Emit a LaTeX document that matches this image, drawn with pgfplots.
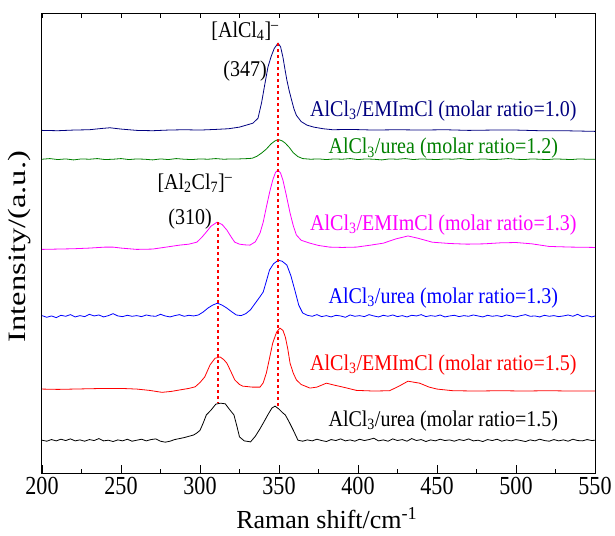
\documentclass[border=0pt]{standalone}
\usepackage{fontspec}
\setmainfont{Liberation Serif}
\newfontfamily\lblfont{Liberation Serif}[FakeStretch=0.89]
\newfontfamily\tickfont{Liberation Serif}[FakeStretch=0.85]
\newfontfamily\ylabfont{Liberation Serif}[FakeStretch=1.3]
\usepackage{pgfplots}
\pgfplotsset{compat=1.18}

\definecolor{navyc}{RGB}{0,0,128}
\definecolor{greenc}{RGB}{0,128,0}
\definecolor{magc}{RGB}{255,0,255}
\definecolor{bluec}{RGB}{0,0,255}
\definecolor{redc}{RGB}{255,0,0}

\newcommand\lbl{\lblfont\fontsize{22.5}{27}\selectfont}

\begin{document}
\begin{tikzpicture}
\begin{axis}[
    scale only axis,
    width=553pt, height=459pt,
    xmin=200, xmax=550, ymin=0, ymax=14,
    xtick={200,250,...,550},
    minor x tick num=1,
    xtick pos=bottom,
    ytick=\empty,
    minor ytick={1,...,13},
    major tick length=8pt,
    minor tick length=4pt,
    axis line style={line width=1pt},
    every tick/.style={black, line width=0.8pt},
    /pgf/number format/assume math mode=true,
    /pgf/number format/1000 sep={},
    xticklabel style={font=\tickfont\fontsize{26}{26}\selectfont, yshift=-1pt},
    xlabel={Raman shift/cm\textsuperscript{-1}},
    xlabel style={font=\fontsize{26}{26}\selectfont, at={(axis description cs:0.515,-0.121)}, anchor=base},
    ylabel={Intensity/(a.u.)},
    ylabel style={font=\ylabfont\fontsize{25}{25}\selectfont, at={(axis description cs:-0.04,0.493)}, anchor=center},
    clip=false,
]
% AlCl3/EMImCl 1.0
\addplot[navyc, line width=0.8pt] coordinates {
(200,10.45) (210,10.44) (220,10.46) (230,10.47) (238,10.51) (243,10.53) (250,10.49) (260,10.45) (270,10.44) (280,10.46) (290,10.47) (300,10.46) (310,10.48) (318,10.50) (325,10.55) (330,10.62) (333.5,10.67) (336.7,10.82) (339,11.30) (341,11.85) (343,12.38) (345,12.70) (347,12.95) (349.4,13.11) (351,13.00) (352.5,12.68) (354,12.25) (355,11.98) (356.5,11.65) (358,11.37) (359.5,11.10) (361,10.91) (364,10.72) (367.7,10.61) (372,10.55) (378,10.50) (384,10.47) (395,10.48) (410,10.46) (425,10.47) (440,10.46) (455,10.47) (470,10.45) (485,10.46) (500,10.46) (515,10.44) (530,10.44) (540,10.43) (550,10.42)};
% AlCl3/urea 1.2
\addplot[greenc, line width=0.8pt] coordinates {
(200,9.57) (205,9.59) (210,9.56) (215,9.58) (220,9.55) (225,9.58) (230,9.57) (235,9.59) (240,9.56) (245,9.57) (250,9.59) (255,9.56) (260,9.58) (265,9.57) (270,9.55) (275,9.58) (280,9.56) (285,9.59) (290,9.57) (295,9.56) (300,9.58) (305,9.57) (310,9.59) (315,9.57) (320,9.58) (325,9.58) (330,9.59) (333,9.60) (336,9.66) (339,9.76) (342,9.88) (345,10.04) (347.5,10.13) (349.5,10.17) (352,10.13) (354,10.06) (356.5,9.93) (359,9.77) (362,9.65) (365,9.59) (370,9.57) (375,9.58) (380,9.56) (385,9.58) (390,9.57) (395,9.59) (400,9.56) (405,9.58) (410,9.57) (415,9.55) (420,9.58) (425,9.57) (430,9.59) (435,9.56) (440,9.58) (445,9.57) (450,9.56) (455,9.58) (460,9.57) (465,9.59) (470,9.56) (475,9.57) (480,9.58) (485,9.56) (490,9.57) (495,9.59) (500,9.57) (505,9.56) (510,9.58) (515,9.57) (520,9.56) (525,9.58) (530,9.57) (535,9.56) (540,9.58) (545,9.57) (550,9.57)};
% AlCl3/EMImCl 1.3
\addplot[magc, line width=0.8pt] coordinates {
(200,6.82) (210,6.83) (220,6.84) (230,6.86) (240,6.89) (245,6.89) (250,6.86) (260,6.82) (270,6.83) (280,6.90) (287,6.95) (293,6.98) (298,7.04) (301,7.18) (304,7.35) (307,7.53) (310.8,7.65) (314,7.58) (317,7.41) (320,7.18) (322,7.04) (325,6.98) (328,6.96) (331.6,6.95) (335,7.05) (338,7.32) (340,7.65) (342,8.11) (344,8.55) (346,8.93) (347.8,9.17) (349.4,9.24) (351,9.15) (352.5,8.93) (354.5,8.50) (357,7.93) (359,7.55) (361,7.26) (364,7.10) (369.6,7.01) (375,6.94) (382,6.89) (390,6.88) (399,6.89) (408,6.95) (416,7.01) (424,7.14) (431.6,7.23) (438,7.16) (447,7.04) (458,7.00) (469,6.98) (480,6.99) (490,7.02) (500,7.03) (510,6.99) (521,6.91) (535,6.89) (550,6.88)};
% AlCl3/urea 1.3
\addplot[bluec, line width=0.8pt] coordinates {
(200,4.80) (203,4.75) (206,4.79) (209,4.74) (212,4.81) (215,4.78) (218,4.83) (221,4.76) (224,4.80) (227,4.77) (230,4.84) (233,4.79) (236,4.82) (239,4.76) (242,4.80) (245,4.86) (248,4.79) (251,4.77) (254,4.81) (257,4.78) (260,4.80) (263,4.77) (266,4.82) (269,4.79) (272,4.78) (275,4.84) (278,4.79) (281,4.76) (284,4.80) (287,4.83) (290,4.78) (293,4.81) (296,4.79) (299,4.82) (302,4.91) (305,5.03) (308,5.12) (311,5.18) (314,5.12) (317,5.03) (320,4.92) (323,4.82) (326,4.80) (329,4.86) (332,4.98) (335,5.18) (338,5.38) (340,5.52) (342,5.85) (344,6.19) (346.5,6.38) (349.5,6.49) (352,6.46) (355,6.34) (357.5,6.02) (360,5.58) (362.5,5.12) (365,4.88) (368,4.81) (371,4.78) (374,4.83) (377,4.77) (380,4.80) (383,4.76) (386,4.81) (389,4.79) (392,4.75) (395,4.82) (398,4.78) (401,4.80) (404,4.77) (407,4.83) (410,4.79) (413,4.76) (416,4.81) (419,4.78) (422,4.82) (425,4.77) (428,4.80) (431,4.76) (434,4.81) (437,4.79) (440,4.83) (443,4.77) (446,4.80) (449,4.78) (452,4.82) (455,4.76) (458,4.79) (461,4.81) (464,4.77) (467,4.80) (470,4.78) (473,4.82) (476,4.79) (479,4.76) (482,4.81) (485,4.78) (488,4.80) (491,4.77) (494,4.82) (497,4.79) (500,4.76) (503,4.80) (506,4.83) (509,4.78) (512,4.79) (515,4.76) (518,4.81) (521,4.78) (524,4.80) (527,4.77) (530,4.79) (533,4.82) (536,4.78) (539,4.84) (542,4.77) (545,4.80) (548,4.76) (550,4.79)};
% AlCl3/EMImCl 1.5
\addplot[redc, line width=0.8pt] coordinates {
(200,2.56) (210,2.55) (220,2.56) (230,2.57) (240,2.58) (250,2.58) (260,2.56) (268,2.52) (276,2.46) (282,2.49) (288,2.54) (293,2.58) (297,2.63) (300,2.76) (303,2.93) (306.4,3.30) (309.5,3.50) (312.7,3.54) (315,3.46) (317,3.35) (319.5,3.10) (322,2.84) (325,2.70) (327,2.65) (333,2.62) (338,2.62) (340,2.75) (342,3.05) (344,3.50) (346,3.96) (348.5,4.30) (350.6,4.42) (352.5,4.35) (354,4.15) (355.5,3.80) (357,3.35) (359,3.05) (361,2.84) (364,2.70) (369.6,2.59) (374,2.62) (380,2.74) (385,2.68) (390.5,2.62) (399,2.52) (410,2.50) (420,2.51) (426,2.65) (431.6,2.80) (439,2.74) (445,2.62) (450,2.56) (460,2.51) (475,2.50) (490,2.51) (505,2.50) (520,2.51) (535,2.50) (550,2.50)};
% AlCl3/urea 1.5
\addplot[black, line width=0.8pt] coordinates {
(200,1.00) (203,0.97) (206,1.02) (209,0.98) (212,1.03) (215,0.99) (218,1.04) (221,0.98) (224,1.01) (227,0.97) (230,1.02) (233,0.99) (236,1.05) (239,0.98) (242,1.00) (245,0.96) (248,1.01) (251,0.98) (254,1.03) (257,0.97) (260,1.00) (263,1.03) (266,0.98) (269,1.02) (272,1.04) (275,0.97) (278,0.94) (281,0.97) (284,1.02) (287,1.05) (290,1.08) (293,1.12) (296,1.16) (298,1.22) (300,1.30) (302,1.52) (304,1.77) (307,1.92) (310,2.10) (313,2.13) (316,2.11) (318.5,1.95) (321.5,1.77) (323.5,1.40) (325,1.10) (328,0.98) (332,0.95) (335,1.12) (338,1.35) (340,1.52) (343,1.78) (345.5,1.98) (347.5,2.04) (350,1.95) (352,1.85) (354,1.77) (356.5,1.55) (359,1.31) (362,1.00) (365,0.97) (368,1.01) (371,0.98) (374,1.03) (377,0.99) (380,0.96) (383,1.02) (386,0.99) (389,1.04) (392,0.98) (395,1.01) (398,0.97) (401,1.03) (404,0.99) (407,1.02) (410,1.06) (413,0.98) (416,1.01) (419,0.97) (422,1.04) (425,0.99) (428,1.02) (431,0.97) (434,1.05) (437,0.99) (440,1.02) (443,0.96) (446,1.01) (449,0.98) (452,1.03) (455,0.99) (458,1.01) (461,0.97) (464,1.02) (467,0.99) (470,1.04) (473,0.98) (476,1.00) (479,0.96) (482,1.02) (485,0.99) (488,1.03) (491,0.97) (494,1.01) (497,0.98) (500,1.02) (503,0.99) (506,0.96) (509,1.01) (512,0.98) (515,1.03) (518,0.99) (521,0.97) (524,1.02) (527,0.98) (530,1.01) (533,0.97) (536,1.03) (539,0.99) (542,0.98) (545,1.02) (548,0.99) (550,1.00)};
% peak guide lines
\addplot[redc, line width=2.4pt, dash pattern=on 3pt off 3pt] coordinates {(349.4,13.11) (349.4,2.04)};
\addplot[redc, line width=2.4pt, dash pattern=on 3pt off 3pt] coordinates {(311.4,7.65) (311.4,2.13)};

\node[navyc, anchor=base, font=\lbl] at (axis cs:454,10.88) {AlCl\textsubscript{3}/EMImCl (molar ratio=1.0)};
\node[greenc, anchor=base, font=\lbl] at (axis cs:454,9.73) {AlCl\textsubscript{3}/urea (molar ratio=1.2)};
\node[magc, anchor=base, font=\lbl] at (axis cs:454,7.41) {AlCl\textsubscript{3}/EMImCl (molar ratio=1.3)};
\node[bluec, anchor=base, font=\lbl] at (axis cs:454,5.18) {AlCl\textsubscript{3}/urea (molar ratio=1.3)};
\node[redc, anchor=base, font=\lbl] at (axis cs:454,3.14) {AlCl\textsubscript{3}/EMImCl (molar ratio=1.5)};
\node[black, anchor=base, font=\lbl] at (axis cs:454,1.43) {AlCl\textsubscript{3}/urea (molar ratio=1.5)};

\node[black, anchor=base, font=\lbl] at (axis cs:328.5,13.29) {[AlCl\textsubscript{4}]\textsuperscript{–}};
\node[black, anchor=base, font=\lbl] at (axis cs:328.5,12.1) {(347)};
\node[black, anchor=base, font=\lbl] at (axis cs:296.8,8.66) {[Al\textsubscript{2}Cl\textsubscript{7}]\textsuperscript{–}};
\node[black, anchor=base, font=\lbl] at (axis cs:293.7,7.59) {(310)};
\end{axis}
% short ticks along the top edge
\begin{axis}[
    scale only axis,
    width=553pt, height=459pt,
    xmin=200, xmax=550, ymin=0, ymax=14,
    axis x line*=top,
    hide y axis,
    axis line style={draw=none},
    xtick={200,250,...,550},
    minor x tick num=1,
    xticklabels={},
    major tick length=4pt,
    minor tick length=4pt,
    every tick/.style={black, line width=0.8pt},
]
\end{axis}
\pgfresetboundingbox
\path[use as bounding box] ([shift={(-42pt,-62pt)}]current axis.south west) rectangle ([shift={(20pt,14pt)}]current axis.north east);
\end{tikzpicture}
\end{document}
